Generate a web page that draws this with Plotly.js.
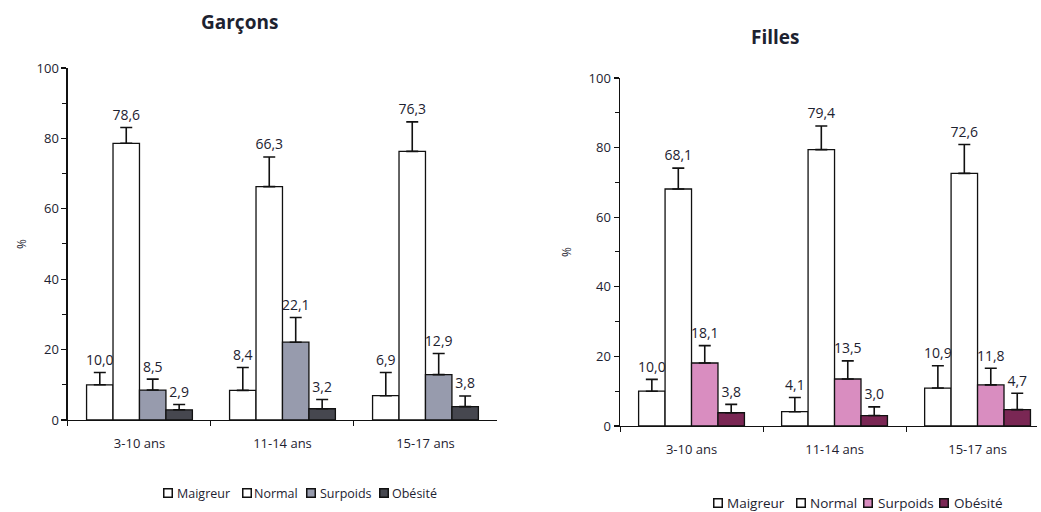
<!DOCTYPE html>
<html><head><meta charset="utf-8">
<script src="https://cdn.plot.ly/plotly-3.0.1.min.js"></script>
<style>body{margin:0;background:#fff}#c{width:1041px;height:512px}</style>
</head><body><div id="c"></div>
<script>
const categories = ["3-10 ans", "11-14 ans", "15-17 ans"];
const seriesNames = ["Maigreur", "Normal", "Surpoids", "Obésité"];
// Garçons
const boysMaigreur = [10.0, 8.4, 6.9];
const boysNormal   = [78.6, 66.3, 76.3];
const boysSurpoids = [8.5, 22.1, 12.9];
const boysObesite  = [2.9, 3.2, 3.8];
const boysErrMaigreur = [3.5, 6.5, 6.6];
const boysErrNormal   = [4.5, 8.4, 8.4];
const boysErrSurpoids = [3.1, 7.0, 6.0];
const boysErrObesite  = [1.5, 2.6, 3.0];
// Filles
const girlsMaigreur = [10.0, 4.1, 10.9];
const girlsNormal   = [68.1, 79.4, 72.6];
const girlsSurpoids = [18.1, 13.5, 11.8];
const girlsObesite  = [3.8, 3.0, 4.7];
const girlsErrMaigreur = [3.4, 4.1, 6.4];
const girlsErrNormal   = [6.0, 6.8, 8.3];
const girlsErrSurpoids = [5.0, 5.2, 4.8];
const girlsErrObesite  = [2.4, 2.5, 4.7];

const boysColors  = ["#ffffff", "#ffffff", "#979bad", "#46474f"];
const girlsColors = ["#ffffff", "#ffffff", "#d98dc0", "#7a2754"];

const FONT = "Open Sans, Noto Sans, sans-serif";
const TXT = "#1d2230";

function makeTraces(vals, errs, colors, xa, ya) {
  const out = [];
  vals.forEach((v, i) => {
    out.push({
      type: "bar", x: categories, y: v, name: seriesNames[i],
      xaxis: xa, yaxis: ya, showlegend: false, offsetgroup: "g" + i,
      marker: {color: colors[i], line: {color: "#111", width: 1.3}},
      error_y: {type: "data", symmetric: false, array: errs[i], arrayminus: v.map(() => 0),
                color: "#111", thickness: 1.6, width: 6},
      hoverinfo: "skip"
    });
  });
  vals.forEach((v, i) => {
    out.push({
      type: "scatter", mode: "markers+text", x: categories, y: v.map((d, j) => d + errs[i][j]),
      marker: {size: 5, opacity: 0, color: "#fff"},
      text: v.map(d => d.toFixed(1).replace(".", ",")), textposition: "top center",
      textfont: {family: FONT, size: 14, color: TXT},
      xaxis: xa, yaxis: ya, showlegend: false, offsetgroup: "g" + i, hoverinfo: "skip"
    });
  });
  return out;
}

const data = [].concat(
  makeTraces([boysMaigreur, boysNormal, boysSurpoids, boysObesite],
             [boysErrMaigreur, boysErrNormal, boysErrSurpoids, boysErrObesite],
             boysColors, "x", "y"),
  makeTraces([girlsMaigreur, girlsNormal, girlsSurpoids, girlsObesite],
             [girlsErrMaigreur, girlsErrNormal, girlsErrSurpoids, girlsErrObesite],
             girlsColors, "x2", "y2")
);

// Compact legends (layout only): swatch + label per series
function legendAnnotations(colors, swatchX, textX, y, fontSize) {
  const out = [];
  seriesNames.forEach((name, i) => {
    out.push({xref: "paper", yref: "paper", x: swatchX[i] / 1041, y: y, xanchor: "center", yanchor: "middle",
              text: " ", showarrow: false, width: 7, height: 7, bgcolor: colors[i],
              bordercolor: "#111", borderwidth: 1.5, borderpad: 0});
    out.push({xref: "paper", yref: "paper", x: textX[i] / 1041, y: y, xanchor: "left", yanchor: "middle",
              text: name, showarrow: false, font: {family: FONT, size: fontSize, color: TXT}});
  });
  return out;
}

const yAxisBase = {
  range: [0, 100], tickvals: [0, 20, 40, 60, 80, 100], ticks: "outside", ticklen: 5,
  tickwidth: 1.3, tickcolor: "#111", showline: true, linecolor: "#111", linewidth: 1.5,
  showgrid: false, zeroline: false, automargin: false,
  minor: {dtick: 10, ticks: "outside", ticklen: 4, tickwidth: 1, tickcolor: "#111", showgrid: false},
  tickfont: {family: FONT, size: 13, color: TXT},
  title: {text: "%", font: {family: FONT, size: 12, color: TXT}, standoff: 7}
};
const xAxisBase = {
  type: "category", ticks: "outside", tickson: "boundaries", ticklen: 5, tickcolor: "#111",
  showline: true, linecolor: "#111", linewidth: 1.5, showgrid: false, automargin: false,
  ticklabelstandoff: 11,
  tickfont: {family: FONT, size: 13, color: TXT}
};

const layout = {
  width: 1041, height: 512, margin: {l: 0, r: 0, t: 0, b: 0, autoexpand: false},
  paper_bgcolor: "#fff", plot_bgcolor: "rgba(0,0,0,0)",
  barmode: "group", bargap: 0.26, bargroupgap: 0,
  scattermode: "group", scattergap: 0.26,
  separators: ", ",
  showlegend: false,
  xaxis: Object.assign({}, xAxisBase, {domain: [0.0653, 0.4774], range: [-0.5, 2.5], anchor: "y"}),
  yaxis: Object.assign({}, yAxisBase, {domain: [0.1797, 0.8672], anchor: "x"}),
  xaxis2: Object.assign({}, xAxisBase, {domain: [0.5956, 0.9962], range: [-0.5, 2.416], anchor: "y2"}),
  yaxis2: Object.assign({}, yAxisBase, {domain: [0.168, 0.8477], anchor: "x2", title: Object.assign({}, yAxisBase.title, {standoff: 14})}),
  annotations: [
    {text: "<b>Garçons</b>", xref: "paper", yref: "paper", x: 0.2305, y: 0.957, xanchor: "center", yanchor: "middle",
     showarrow: false, font: {family: FONT, size: 19, color: TXT}},
    {text: "<b>Filles</b>", xref: "paper", yref: "paper", x: 0.7445, y: 0.928, xanchor: "center", yanchor: "middle",
     showarrow: false, font: {family: FONT, size: 19, color: TXT}}
  ].concat(
    legendAnnotations(boysColors, [167.5, 246.5, 311, 384], [175, 252, 318, 390], 1 - 493 / 512, 12.5),
    legendAnnotations(girlsColors, [717.5, 801, 867.5, 944], [725, 808, 876, 952], 1 - 503 / 512, 13.5)
  )
};

Plotly.newPlot("c", data, layout, {displayModeBar: false, staticPlot: true});
</script></body></html>
